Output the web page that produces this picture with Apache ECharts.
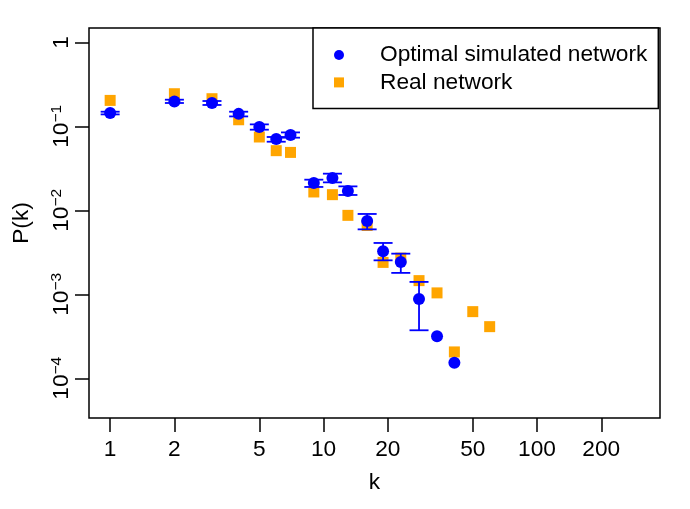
<!DOCTYPE html>
<html>
<head>
<meta charset="utf-8">
<script src="https://cdn.jsdelivr.net/npm/echarts@6/dist/echarts.min.js"></script>
<style>
  html, body { margin: 0; padding: 0; background: #fff; }
  #chart { width: 690px; height: 509px; }
</style>
</head>
<body>
<div id="chart"></div>
<script>
// degree distribution
const simK  = [1, 2, 3, 4, 5, 6, 7, 9, 11, 13, 16, 19, 23, 28, 34, 41]
const simP  = [0.144, 0.198, 0.190, 0.141, 0.0984, 0.0708, 0.079, 0.0212, 0.0243, 0.0170, 0.00748, 0.00325, 0.00243, 0.000881, 0.000316, 0.000153]
const simLo = [0.139, 0.190, 0.180, 0.1315, 0.0914, 0.0657, 0.0734, 0.0190, 0.02155, 0.01525, 0.00594, 0.00254, 0.00180, 0.000373, null, null]
const simHi = [0.1496, 0.208, 0.2006, 0.1496, 0.1057, 0.0748, 0.0848, 0.0232, 0.02735, 0.0193, 0.00906, 0.00409, 0.00305, 0.001405, null, null]

const realK = [1, 2, 3, 4, 5, 6, 7, 9, 11, 13, 16, 19, 23, 28, 34, 41, 50, 60]
const realP = [0.204, 0.245, 0.2137, 0.120, 0.0748, 0.0514, 0.049, 0.01656, 0.01538, 0.00872, 0.0066, 0.0024, 0.0027, 0.001456, 0.00104, 0.000206, 0.000622, 0.000412]

const xTicks = [1, 2, 5, 10, 20, 50, 100, 200]
const yTickExp = [-4, -3, -2, -1, 0]

// log10 axis ranges (xlim 1..300, ylim 5e-5..1, plus R's 4% padding)
const X_MIN = -0.0991, X_MAX = 2.5762
const Y_MIN = -4.4731, Y_MAX = 0.1720

const BLUE = '#0000ff'
const ORANGE = '#ffa500'
const FONT = 'Liberation Sans'
const FS = 22.7
const lg = Math.log10

const chart = echarts.init(document.getElementById('chart'))

function errorBar(params, api) {
  const x = api.value(0)
  const lo = api.coord([x, api.value(1)])
  const hi = api.coord([x, api.value(2)])
  const w = 9.5
  const style = { stroke: BLUE, lineWidth: 1.8 }
  return {
    type: 'group',
    children: [
      { type: 'line', shape: { x1: lo[0], y1: lo[1], x2: hi[0], y2: hi[1] }, style },
      { type: 'line', shape: { x1: lo[0] - w, y1: lo[1], x2: lo[0] + w, y2: lo[1] }, style },
      { type: 'line', shape: { x1: hi[0] - w, y1: hi[1], x2: hi[0] + w, y2: hi[1] }, style }
    ]
  }
}

const errData = simK
  .map((k, i) => simLo[i] == null ? null : [lg(k), lg(simLo[i]), lg(simHi[i])])
  .filter(d => d)

chart.setOption({
  animation: false,
  textStyle: { fontFamily: FONT },
  grid: {
    left: 89, right: 30, top: 28, bottom: 91,
    show: true, borderColor: '#000', borderWidth: 1.5, backgroundColor: 'transparent'
  },
  legend: {
    data: [
      { name: 'Optimal simulated network', icon: 'circle' },
      { name: 'Real network', icon: 'rect' }
    ],
    orient: 'vertical',
    left: 313, top: 28,
    padding: [15, 11, 14, 21],
    itemWidth: 10, itemHeight: 10, itemGap: 3.4,
    borderColor: '#000', borderWidth: 1.5, backgroundColor: '#fff',
    textStyle: { fontSize: FS, fontFamily: FONT, color: '#000', lineHeight: 24, padding: [0, 0, 0, 31] },
    selectedMode: false
  },
  xAxis: {
    type: 'value',
    min: X_MIN, max: X_MAX,
    name: 'k', nameLocation: 'middle', nameGap: 53,
    nameTextStyle: { fontSize: FS, color: '#000', fontFamily: FONT },
    axisLine: { show: false, onZero: false },
    splitLine: { show: false },
    axisTick: { show: true, length: 14, customValues: xTicks.map(lg), lineStyle: { color: '#000', width: 1.5 } },
    axisLabel: {
      customValues: xTicks.map(lg), margin: 20,
      fontSize: FS, color: '#000', fontFamily: FONT,
      formatter: v => String(Math.round(Math.pow(10, v)))
    }
  },
  yAxis: {
    type: 'value',
    min: Y_MIN, max: Y_MAX,
    name: 'P(k)', nameLocation: 'middle', nameGap: 47,
    nameTextStyle: { fontSize: FS, color: '#000', fontFamily: FONT },
    axisLine: { show: false, onZero: false },
    splitLine: { show: false },
    axisTick: { show: true, length: 14, customValues: yTickExp, lineStyle: { color: '#000', width: 1.5 } },
    axisLabel: {
      customValues: yTickExp, margin: 16, rotate: 90,
      formatter: v => {
        const e = Math.round(v)
        return e === 0 ? '{b|1}' : '{b|10}{s|\u2212' + (-e) + '}'
      },
      rich: {
        b: { fontSize: FS, fontFamily: FONT, color: '#000', lineHeight: 24, padding: [9, 0, 0, 0], verticalAlign: 'bottom' },
        s: { fontSize: 15.5, fontFamily: FONT, color: '#000', lineHeight: 16, verticalAlign: 'top' }
      }
    }
  },
  series: [
    {
      name: 'Real network',
      type: 'scatter',
      symbol: 'rect',
      symbolSize: 11,
      itemStyle: { color: ORANGE, opacity: 1 },
      z: 2,
      data: realK.map((k, i) => [lg(k), lg(realP[i])])
    },
    {
      name: 'Optimal simulated network',
      type: 'scatter',
      symbol: 'circle',
      symbolSize: 12,
      itemStyle: { color: BLUE, opacity: 1 },
      z: 3,
      data: simK.map((k, i) => [lg(k), lg(simP[i])])
    },
    {
      name: 'err',
      type: 'custom',
      renderItem: errorBar,
      z: 4,
      silent: true,
      data: errData
    }
  ]
})
</script>
</body>
</html>
